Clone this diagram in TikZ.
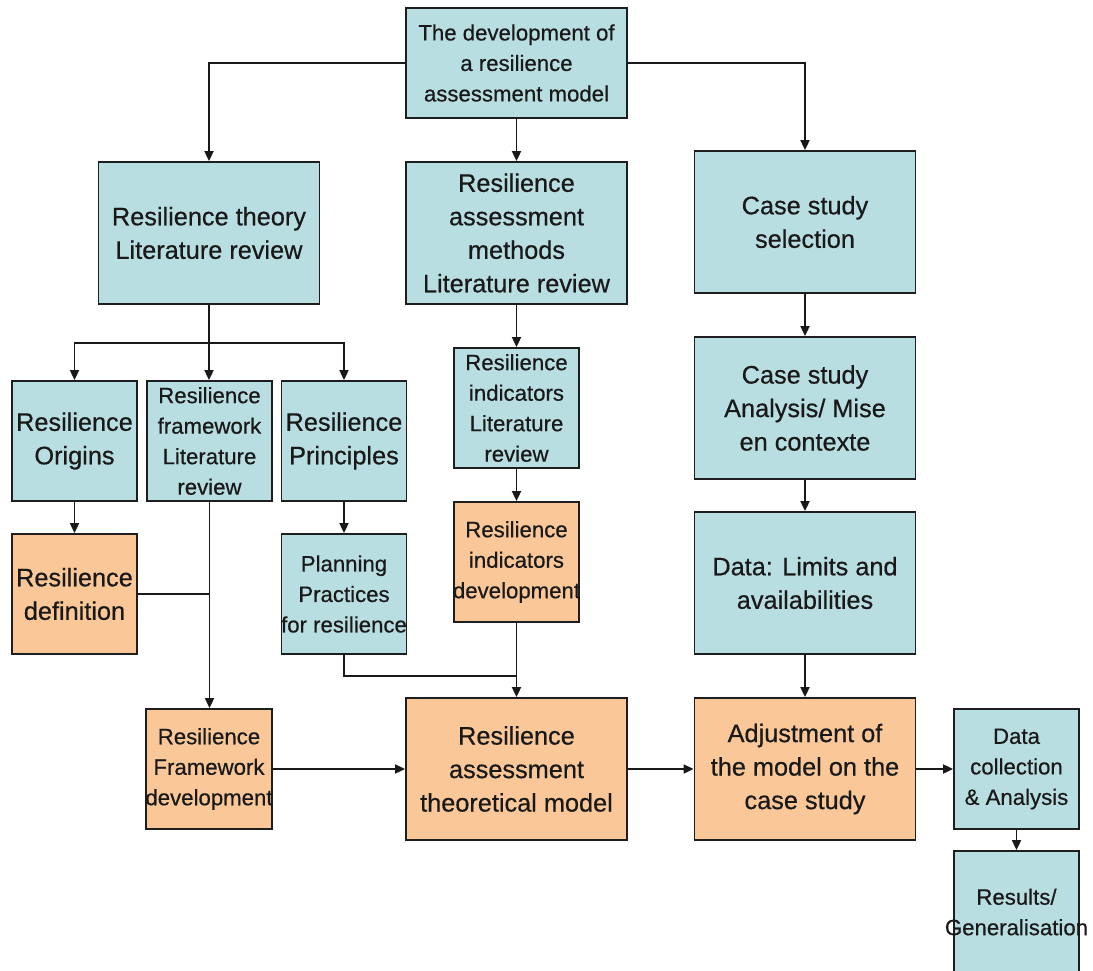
\documentclass[tikz,border=0pt]{standalone}
\usepackage{fontspec}
\setmainfont{Liberation Sans}[FakeBold=0.5]
\usetikzlibrary{arrows.meta}
\definecolor{boxblue}{HTML}{B9DEE1}
\definecolor{boxorange}{HTML}{FAC898}
\definecolor{edgegray}{HTML}{1E1E1E}
\begin{document}
\begin{tikzpicture}[x=1pt,y=-1pt,
  box/.style={draw=edgegray, line width=1.8pt, inner sep=0pt, align=center, text=black!90},
  wide/.style={box, minimum width=221pt, minimum height=142pt},
  narrow/.style={box, minimum width=125pt, minimum height=120pt},
  bigtxt/.style={font=\fontsize{25.3}{33.5}\selectfont},
  smalltxt/.style={font=\fontsize{22.2}{30.5}\selectfont},
  blue/.style={fill=boxblue},
  orange/.style={fill=boxorange},
  link/.style={draw=black!90, line width=1.8pt},
  arr/.style={link, -{Triangle[length=10pt,width=9pt]}}
]
\useasboundingbox (0,0) rectangle (1093,970);
\clip (0,0) rectangle (1093,970);

% top level
\node[box, blue, smalltxt, minimum width=221pt, minimum height=110pt] (top) at (516.5,63)
  {The development of\\a resilience\\assessment model};

% second row
\node[wide, blue, bigtxt] (theory) at (209,233) {Resilience theory\\Literature review};
\node[wide, blue, bigtxt] (methods) at (516.5,233) {Resilience\\assessment\\methods\\Literature review};
\node[wide, blue, bigtxt] (casesel) at (805,222) {Case study\\selection};

% third row
\node[narrow, blue, bigtxt] (origins) at (74.5,441) {Resilience\\Origins};
\node[narrow, blue, smalltxt] (frameLR) at (209.5,441) {Resilience\\framework\\Literature\\review};
\node[narrow, blue, bigtxt] (principles) at (344,441) {Resilience\\Principles};
\node[narrow, blue, smalltxt] (indLR) at (516.5,408) {Resilience\\indicators\\Literature\\review};
\node[wide, blue, bigtxt] (caseana) at (805,408) {Case study\\Analysis/ Mise\\en contexte};

% fourth row
\node[narrow, orange, bigtxt] (definition) at (74.5,594) {Resilience\\definition};
\node[narrow, blue, smalltxt] (planning) at (344,594) {Planning\\Practices\\\makebox[125pt]{for resilience}};
\node[narrow, orange, smalltxt] (inddev) at (516.5,562) {Resilience\\indicators\\\makebox[125pt]{development}};
\node[wide, blue, bigtxt] (dla) at (805,583) {Data: Limits and\\availabilities};

% bottom row
\node[narrow, orange, smalltxt, minimum width=126pt] (framedev) at (209,769) {Resilience\\Framework\\\makebox[126pt]{development}};
\node[wide, orange, bigtxt] (model) at (516.5,769) {Resilience\\assessment\\theoretical model};
\node[wide, orange, bigtxt] (adjust) at (805,769) {Adjustment of\\the model on the\\case study};
\node[narrow, blue, smalltxt] (collect) at (1016.5,769) {Data\\collection\\\& Analysis};
\node[box, blue, smalltxt, minimum width=125pt, minimum height=122pt] (results) at (1016.5,912)
  {Results/\\\makebox[125pt]{Generalisation}};

% junction points
\coordinate (split) at (209,343);
\coordinate (planjoin) at (516.5,676);

% connectors from the top box
\draw[arr] (top.west) -| (theory.north);
\draw[arr] (top.east) -| (casesel.north);
\draw[arr] (top.south) -- (methods.north);

% theory branch
\draw[link] (theory.south) -- (split);
\draw[arr] (split) -| (origins.north);
\draw[arr] (split) -| (principles.north);
\draw[arr] (split) -- (split |- frameLR.north);
\draw[arr] (origins.south) -- (definition.north);
\draw[arr] (frameLR.south) -- (frameLR.south |- framedev.north);
\draw[link] (definition.east) -- (definition.east -| frameLR.south);
\draw[arr] (principles.south) -- (planning.north);
\draw[link] (planning.south) |- (planjoin);

% methods branch
\draw[arr] (methods.south) -- (indLR.north);
\draw[arr] (indLR.south) -- (inddev.north);
\draw[arr] (inddev.south) -- (model.north);

% case study branch
\draw[arr] (casesel.south) -- (caseana.north);
\draw[arr] (caseana.south) -- (dla.north);
\draw[arr] (dla.south) -- (adjust.north);

% bottom chain
\draw[arr] (framedev.east) -- (model.west);
\draw[arr] (model.east) -- (adjust.west);
\draw[arr] (adjust.east) -- (collect.west);
\draw[arr] (collect.south) -- (results.north);
\end{tikzpicture}
\end{document}
